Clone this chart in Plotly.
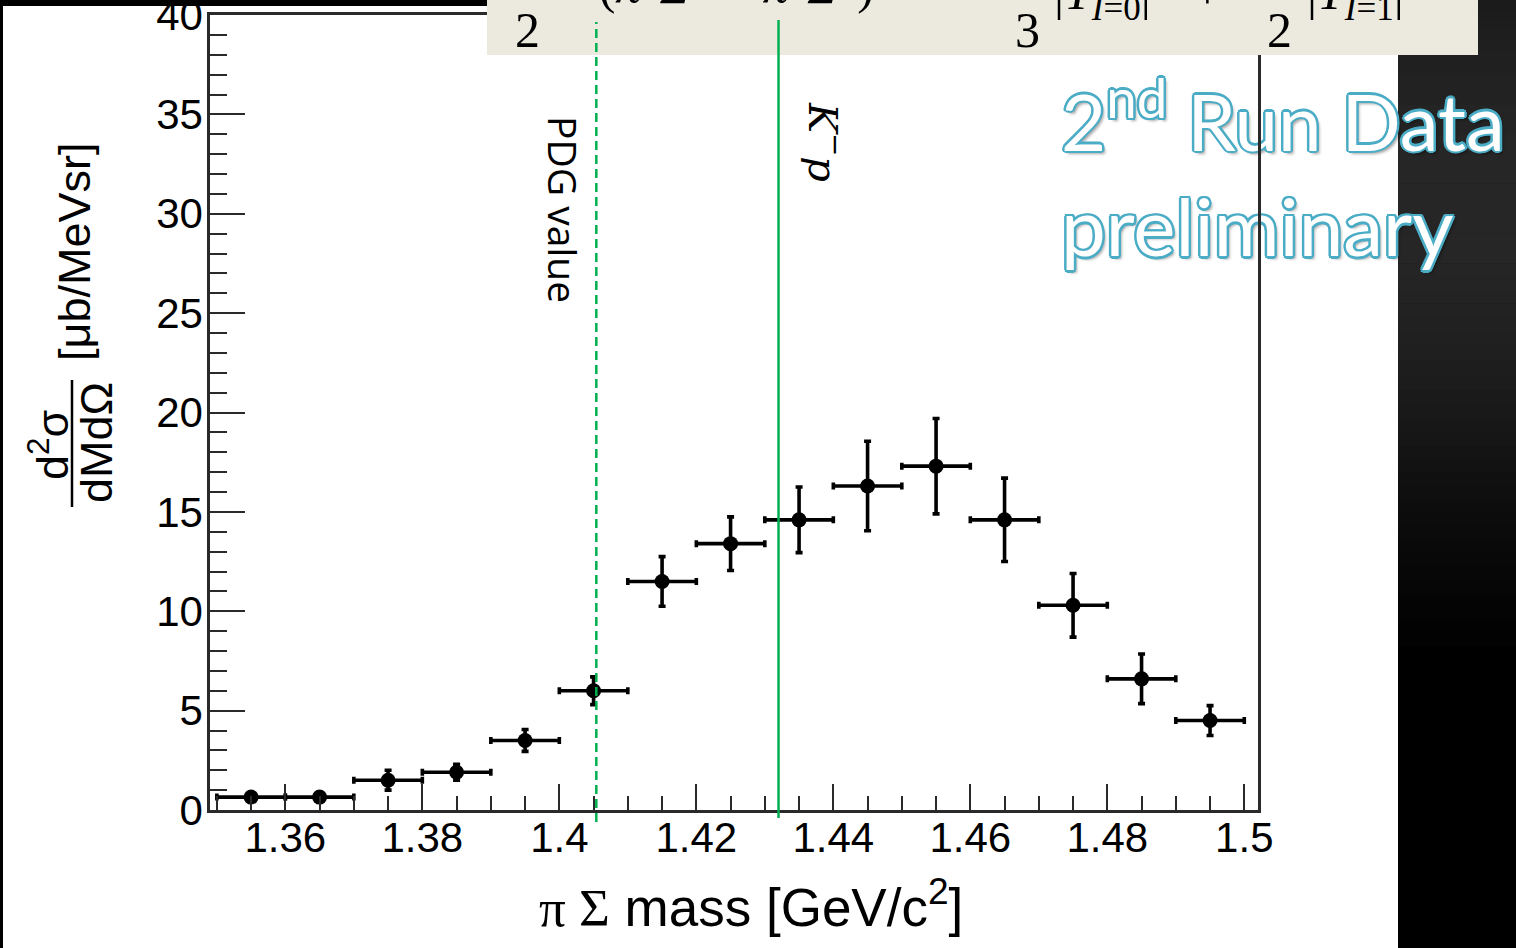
import plotly.graph_objects as go

# ---------------- data ----------------
bin_center = [1.355, 1.365, 1.375, 1.385, 1.395, 1.405, 1.415, 1.425,
              1.435, 1.445, 1.455, 1.465, 1.475, 1.485, 1.495]
cross_section = [0.65, 0.65, 1.5, 1.9, 3.5, 6.0, 11.5, 13.4,
                 14.6, 16.3, 17.3, 14.6, 10.3, 6.6, 4.5]
stat_error = [0.2, 0.2, 0.5, 0.4, 0.55, 0.7, 1.25, 1.35,
              1.65, 2.25, 2.4, 2.1, 1.6, 1.25, 0.75]
bin_half_width = [0.005] * 15
pdg_mass = 1.4054        # Lambda(1405) PDG value
kp_threshold = 1.432     # K- p threshold

x_ticks = [1.36, 1.38, 1.40, 1.42, 1.44, 1.46, 1.48, 1.50]
x_tick_labels = ["1.36", "1.38", "1.4", "1.42", "1.44", "1.46", "1.48", "1.5"]
y_ticks = [0, 5, 10, 15, 20, 25, 30, 35, 40]
x_range = [1.349, 1.502]
y_range = [0, 40]

# ---------------- layout helpers ----------------
W, H = 1516, 948
L, R, T, B = 210, 1258, 15, 810


def px(xp):
    return (xp - L) / (R - L)


def py(yp):
    return (B - yp) / (B - T)


def dx(xp):  # pixel -> data x (for label placement only)
    return x_range[0] + px(xp) * (x_range[1] - x_range[0])


def dy(yp):
    return y_range[0] + py(yp) * (y_range[1] - y_range[0])


fig = go.Figure()
fig.add_trace(go.Scatter(
    x=bin_center, y=cross_section, mode="markers",
    marker=dict(color="black", size=15),
    error_x=dict(type="data", array=bin_half_width, color="black", thickness=3.6, width=3.5),
    error_y=dict(type="data", array=stat_error, color="black", thickness=3.6, width=3.5),
    showlegend=False, cliponaxis=False,
))

# "2nd Run Data / preliminary" stamp (as text trace so the frame line stays on top)
outline = ("#4bacc6 2.5px 0px 0px, #4bacc6 -2.5px 0px 0px, #4bacc6 0px 2.5px 0px, "
           "#4bacc6 0px -2.5px 0px, #4bacc6 1.8px 1.8px 0px, #4bacc6 -1.8px -1.8px 0px, "
           "#4bacc6 1.8px -1.8px 0px, #4bacc6 -1.8px 1.8px 0px, rgba(0,0,0,0.35) 3px 3px 3px")
fig.add_trace(go.Scatter(
    x=[dx(1061)], y=[dy(131)], mode="text", text=["2<sup>nd</sup> Run Data"],
    textposition="middle right", cliponaxis=False, showlegend=False, hoverinfo="skip",
    textfont=dict(family="Lato", size=78, color="white", shadow=outline)))
fig.add_trace(go.Scatter(
    x=[dx(1061)], y=[dy(236)], mode="text", text=["preliminary"],
    textposition="middle right", cliponaxis=False, showlegend=False, hoverinfo="skip",
    textfont=dict(family="Lato", size=80, color="white", shadow=outline)))

shapes = []
# slide background
shapes.append(dict(type="rect", xref="paper", yref="paper", layer="below",
                   x0=px(3), x1=px(1398), y0=py(948), y1=py(6),
                   fillcolor="white", line=dict(width=0)))
# dark gradient on the right (style only)
grad = [(0, 27), (60, 32), (150, 38), (250, 38), (330, 33), (420, 24),
        (500, 14), (580, 6), (660, 0), (948, 0)]
for (ya, ga), (yb, gb) in zip(grad[:-1], grad[1:]):
    n = 6
    for k in range(n):
        y0 = ya + (yb - ya) * k / n
        y1 = ya + (yb - ya) * (k + 1) / n
        g = int(round(ga + (gb - ga) * (k + 0.5) / n))
        shapes.append(dict(type="rect", xref="paper", yref="paper", layer="below",
                           x0=px(1398), x1=px(W), y0=py(y1 + 0.5), y1=py(y0),
                           fillcolor=f"rgb({g},{g},{g})", line=dict(width=0)))
# top black strip
shapes.append(dict(type="rect", xref="paper", yref="paper", layer="above",
                   x0=px(0), x1=px(487), y0=py(6), y1=py(-2),
                   fillcolor="black", line=dict(width=0)))
# beige formula box
shapes.append(dict(type="rect", xref="paper", yref="paper", layer="above",
                   x0=px(487), x1=px(1478), y0=py(55), y1=py(-2),
                   fillcolor="#eceadf", line=dict(width=0)))
# vertical reference lines
shapes.append(dict(type="line", xref="x", yref="paper", layer="above",
                   x0=pdg_mass, x1=pdg_mass, y0=py(822), y1=py(22),
                   line=dict(color="#00b050", width=2.5, dash="9px,5px")))
shapes.append(dict(type="line", xref="x", yref="paper", layer="above",
                   x0=kp_threshold, x1=kp_threshold, y0=py(818), y1=py(20),
                   line=dict(color="#00b050", width=2.5)))
# fraction bar of y title
shapes.append(dict(type="line", xref="paper", yref="paper", layer="above",
                   x0=px(72), x1=px(72), y0=py(507), y1=py(380),
                   line=dict(color="black", width=2.5)))


def A(text, xp, yp, font, angle=0, xa="center", ya="middle"):
    return dict(text=text, x=px(xp), y=py(yp), xref="paper", yref="paper",
                xanchor=xa, yanchor=ya, showarrow=False, textangle=angle, font=font)


ann = []
ann.append(A("PDG value", 563, 209, dict(family="Open Sans", size=39, color="black"), angle=90))
ann.append(A("<i>K</i><sup>−</sup><i>p</i>", 826, 142,
             dict(family="DejaVu Serif", size=40, color="black"), angle=90))
# y title
ysty = dict(family="Liberation Sans", size=45, color="black")
ann.append(A("[μb/MeVsr]", 74, 252, ysty, angle=-90))
ann.append(A("d<sup>2</sup>σ", 49, 445, ysty, angle=-90))
ann.append(A("dMdΩ", 96, 443, ysty, angle=-90))
# x title
ann.append(A("<span style='font-family:Liberation Serif'>π Σ</span> mass [GeV/c<sup>2</sup>]",
             751, 903, dict(family="Liberation Sans", size=53, color="black")))
# formula (partly cut at the top edge)
serif = dict(family="Liberation Serif", size=50, color="black")
for txt, xc in [("2", 527), ("3", 1027), ("2", 1279)]:
    ann.append(A(txt, xc, 30, serif))
ann.append(A("× (<i>π</i><sup>−</sup><i>Σ</i><sup>+</sup> + <i>π</i><sup>+</sup><i>Σ</i><sup>−</sup>)",
             556, 16, serif, xa="left", ya="bottom"))
ann.append(A("|<i>T</i><sub><i>I</i>=0</sub>|<sup>2</sup>  +", 1052, 30, serif, xa="left", ya="bottom"))
ann.append(A("|<i>T</i><sub><i>I</i>=1</sub>|<sup>2</sup>", 1305, 30, serif, xa="left", ya="bottom"))

axis_common = dict(showline=True, linecolor="#2a2a2a", linewidth=2.5, mirror=True,
                   showgrid=False, zeroline=False, ticks="inside", tickcolor="#2a2a2a",
                   tickwidth=2, ticklabeloverflow="allow", automargin=False,
                   tickfont=dict(family="Liberation Sans", size=42, color="black"))

fig.update_layout(
    width=W, height=H, autosize=False,
    margin=dict(l=L, r=W - R, t=T, b=H - B, pad=0, autoexpand=False),
    paper_bgcolor="#000000", plot_bgcolor="white",
    shapes=shapes, annotations=ann, showlegend=False,
    xaxis=dict(range=x_range, tickvals=x_ticks, ticktext=x_tick_labels,
               ticklen=26, ticklabelstandoff=-11,
               minor=dict(dtick=0.005, tick0=1.35, ticks="inside", ticklen=14,
                          tickwidth=2, tickcolor="#2a2a2a", showgrid=False),
               **axis_common),
    yaxis=dict(range=y_range, tickvals=y_ticks, ticklen=35, ticklabelstandoff=-4,
               minor=dict(dtick=1, tick0=0, ticks="inside", ticklen=17,
                          tickwidth=2, tickcolor="#2a2a2a", showgrid=False),
               **axis_common),
)

fig.write_html("out.html")
